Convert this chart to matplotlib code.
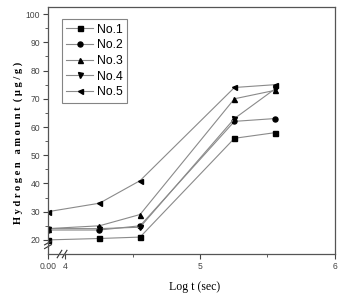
import numpy as np
import matplotlib
matplotlib.use("Agg")
import matplotlib.pyplot as plt
from matplotlib.ticker import FixedLocator, FixedFormatter

# log t (sec): 0, 5 h, 10 h, 50 h, 100 h
log_t = [0.0, 4.255, 4.556, 5.255, 5.556]
no1 = [20.0, 20.5, 21.0, 56.0, 58.0]
no2 = [23.5, 23.5, 25.0, 62.0, 63.0]
no3 = [24.0, 25.0, 29.0, 70.0, 73.0]
no4 = [24.0, 24.0, 24.5, 63.0, 73.5]
no5 = [30.0, 33.0, 41.0, 74.0, 75.0]
series = [("No.1", no1, "s"), ("No.2", no2, "o"), ("No.3", no3, "^"),
          ("No.4", no4, "v"), ("No.5", no5, "<")]

x_ticks = [0, 4, 5, 6]
x_ticklabels = ["0.00", "4", "5", "6"]

# broken x axis: 0..4 squeezed into a short stub on the left
STUB = 0.126


def fwd(x):
    x = np.asarray(x, dtype=float)
    return np.where(x >= 4, x, 4 - STUB + x * STUB / 4)


def inv(p):
    p = np.asarray(p, dtype=float)
    return np.where(p >= 4, p, (p - (4 - STUB)) * 4 / STUB)


plt.rcParams['font.family'] = ['Liberation Sans', 'DejaVu Sans']

fig = plt.figure(figsize=(3.42, 2.94), dpi=100)
ax = fig.add_axes([0.1404, 0.136, 0.8391, 0.840])
ax.set_xscale('function', functions=(fwd, inv))

for name, vals, mk in series:
    ax.plot(log_t, vals, color='#8a8a8a', lw=0.8, marker=mk, ms=3.6,
            mfc='black', mec='black', label=name)

ax.set_xlim(0, 6)
ax.set_ylim(15, 102.5)

ax.xaxis.set_major_locator(FixedLocator(x_ticks))
ax.xaxis.set_major_formatter(FixedFormatter(x_ticklabels))
ax.xaxis.set_minor_locator(FixedLocator([4.5, 5.5]))
ax.yaxis.set_major_locator(FixedLocator(list(range(20, 101, 10))))
ax.yaxis.set_minor_locator(FixedLocator(list(range(25, 100, 10))))

ax.tick_params(which='both', direction='out', colors='#444444',
               labelsize=6.2, top=False, right=False)
ax.tick_params(which='major', length=3.5, width=0.8, pad=2)
ax.tick_params(which='minor', length=2, width=0.6)
for s in ax.spines.values():
    s.set_color('#555555')
    s.set_linewidth(0.9)

# break marks
kw = dict(transform=ax.transAxes, color='#333333', lw=0.8, clip_on=False)
for dx in (0.040, 0.058):
    ax.plot([dx - 0.008, dx + 0.008], [-0.015, 0.015], **kw)
for dy in (0.030, 0.045):
    ax.plot([-0.012, 0.012], [dy - 0.008, dy + 0.008], **kw)

leg = ax.legend(loc='upper left', bbox_to_anchor=(0.048, 0.95),
                fontsize=8.8, frameon=True, fancybox=False, handlelength=2.2,
                handletextpad=0.3, labelspacing=0.3, borderpad=0.35,
                borderaxespad=0)
leg.get_frame().set_edgecolor('#666666')
leg.get_frame().set_linewidth(0.8)

fig.text(0.053, 0.515, "H y d r o g e n   a m o u n t  ( μ g / g )",
         rotation=90, ha='center', va='center', fontsize=7.5,
         family=['Liberation Serif', 'DejaVu Serif'], fontweight='bold')
fig.text(0.57, 0.005, "Log t (sec)", ha='center', va='bottom', fontsize=8.5,
         family=['Liberation Serif', 'DejaVu Serif'])

fig.savefig("out.png", dpi=100)
